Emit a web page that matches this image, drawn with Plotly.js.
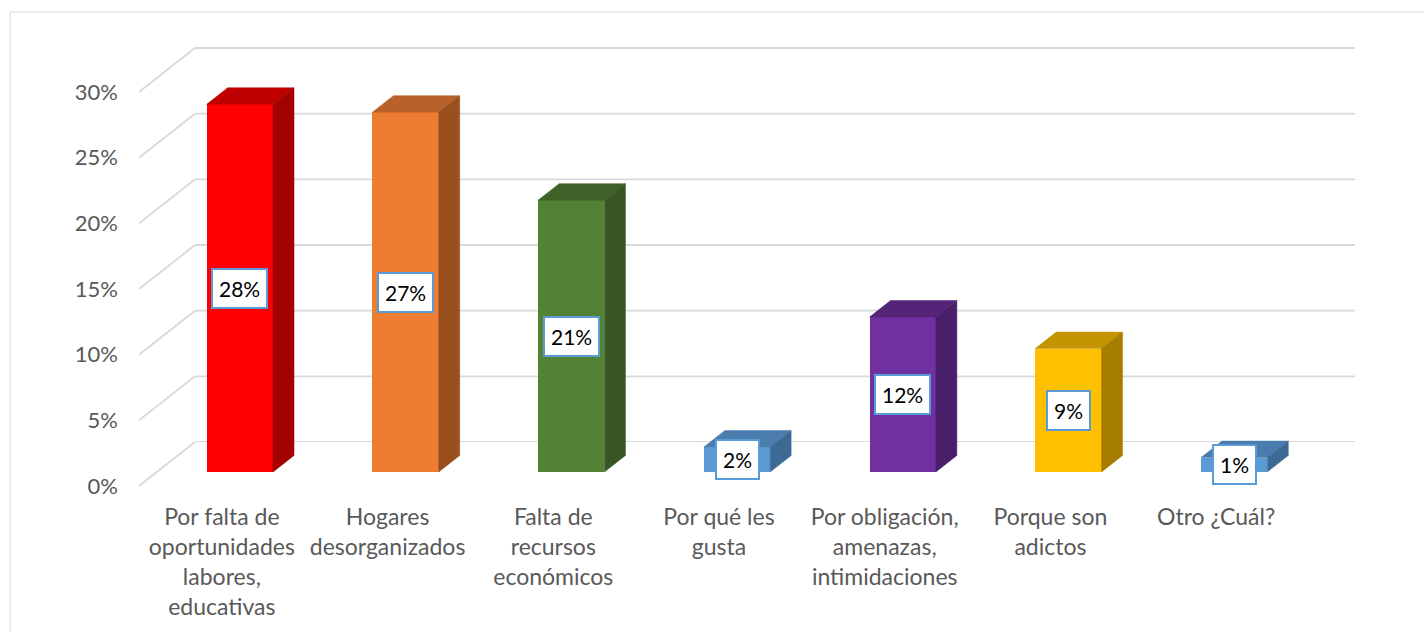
<!DOCTYPE html>
<html><head><meta charset="utf-8">
<script src="https://cdn.plot.ly/plotly-3.0.1.min.js"></script>
<style>html,body{margin:0;padding:0;background:#fff}#chart{width:1424px;height:632px}</style>
</head><body><div id="chart"></div>
<script>
// ---- data ----
const categories = [
  "Por falta de<br>oportunidades<br>labores,<br>educativas",
  "Hogares<br>desorganizados",
  "Falta de<br>recursos<br>económicos",
  "Por qué les<br>gusta",
  "Por obligación,<br>amenazas,<br>intimidaciones",
  "Porque son<br>adictos",
  "Otro ¿Cuál?"
];
const values = [28.0, 27.4, 20.7, 1.9, 11.8, 9.4, 1.1];
const valueLabels = ["28%", "27%", "21%", "2%", "12%", "9%", "1%"];
const frontColors = ["#FF0000", "#ED7D31", "#548235", "#5B9BD5", "#7030A0", "#FFC000", "#5B9BD5"];
const topColors   = ["#C00000", "#B8612A", "#3F6128", "#4A7DAE", "#552478", "#C49300", "#4A7DAE"];
const sideColors  = ["#A30000", "#9A4F1F", "#375623", "#3D6A95", "#4A1F69", "#A67D00", "#3D6A95"];
const yTickValues = [0, 5, 10, 15, 20, 25, 30];
const yTickLabels = ["0%", "5%", "10%", "15%", "20%", "25%", "30%"];

// ---- geometry (pixels) ----
const W = 1424, H = 632;
const L = 139, R = 1355, T = 44, B = 486;
const pw = R - L, ph = B - T;
const frontW = 1160;
const pxPerCat = frontW / categories.length;
const pxPerPct = 394 / 30;
const wallDX = 56, wallDY = 44;
const barDX = 18, barDY = 14;
const depthDX = 21, depthDY = 16.5;
const barW = 0.4;
const FONT = "Lato, 'Open Sans', sans-serif";
const GRID = "#D9D9D9";
const idx = categories.map((c, i) => i);

const traces = [];
// front faces
traces.push({
  type: "bar", x: idx, y: values, width: barW,
  marker: {color: frontColors, line: {width: 0}},
  xaxis: "x3", yaxis: "y3", hoverinfo: "skip"
});
const ddx = depthDX / pxPerCat, ddy = depthDY / pxPerPct;
values.forEach((v, i) => {
  const a = i - barW / 2, b = i + barW / 2;
  traces.push({
    type: "scatter", mode: "lines", fill: "toself",
    x: [a, a + ddx, b + ddx, b, a], y: [v, v + ddy, v + ddy, v, v],
    fillcolor: topColors[i], line: {color: topColors[i], width: 0.5},
    xaxis: "x3", yaxis: "y3", hoverinfo: "skip"
  });
  traces.push({
    type: "scatter", mode: "lines", fill: "toself",
    x: [b, b + ddx, b + ddx, b, b], y: [0, ddy, v + ddy, v, 0],
    fillcolor: sideColors[i], line: {color: sideColors[i], width: 0.5},
    xaxis: "x3", yaxis: "y3", hoverinfo: "skip"
  });
});

const xr = [-0.5, categories.length - 0.5];
const shapes = [];
// side-wall diagonals (front plane -> back wall)
yTickValues.forEach(v => shapes.push({
  type: "line", xref: "x2", yref: "y2", layer: "below",
  x0: xr[0], y0: v, x1: xr[0] + wallDX / pxPerCat, y1: v + wallDY / pxPerPct,
  line: {color: GRID, width: 1.8}
}));
// back-wall gridlines
yTickValues.forEach(v => shapes.push({
  type: "line", xref: "x", yref: "y", layer: "below",
  x0: xr[0], y0: v, x1: xr[1], y1: v,
  line: {color: GRID, width: 1.8}
}));
// chart-area border
shapes.push({
  type: "rect", xref: "paper", yref: "paper",
  x0: (10 - L) / pw, x1: (1440 - L) / pw, y0: (B - 650) / ph, y1: (B - 12) / ph,
  line: {color: GRID, width: 1}, fillcolor: "rgba(0,0,0,0)"
});

const annotations = values.map((v, i) => ({
  xref: "x3", yref: "y3", x: i, y: v / 2, text: valueLabels[i], showarrow: false,
  bgcolor: "#FFFFFF", bordercolor: "#5B9BD5", borderwidth: 2, borderpad: 6,
  font: {family: FONT, size: 21, color: "#000000"}
}));

const hidden = {showgrid: false, zeroline: false, showline: false, showticklabels: false, ticks: ""};
const layout = {
  width: W, height: H,
  margin: {l: L, r: W - R, t: T, b: H - B, pad: 0},
  paper_bgcolor: "#FFFFFF", plot_bgcolor: "rgba(0,0,0,0)",
  showlegend: false,
  font: {family: FONT, size: 22, color: "#595959"},
  // back wall
  xaxis: Object.assign({}, hidden, {domain: [wallDX / pw, (wallDX + frontW) / pw], range: xr, anchor: "y"}),
  yaxis: Object.assign({}, hidden, {domain: [wallDY / ph, 1], range: [0, (ph - wallDY) / pxPerPct], anchor: "x"}),
  // front plane (labels)
  xaxis2: Object.assign({}, hidden, {domain: [0, frontW / pw], range: xr, anchor: "y2",
    showticklabels: true, tickmode: "array", tickvals: idx, ticktext: categories, tickangle: 0,
    ticklabelstandoff: 15, tickfont: {family: FONT, size: 23, color: "#595959"}}),
  yaxis2: Object.assign({}, hidden, {domain: [0, 1], range: [0, ph / pxPerPct], anchor: "x2",
    showticklabels: true, tickmode: "array", tickvals: yTickValues, ticktext: yTickLabels,
    ticklabelstandoff: 20, tickfont: {family: FONT, size: 22, color: "#595959"}}),
  // bars
  xaxis3: Object.assign({}, hidden, {domain: [barDX / pw, (barDX + frontW) / pw], range: xr, anchor: "y3"}),
  yaxis3: Object.assign({}, hidden, {domain: [barDY / ph, 1], range: [0, (ph - barDY) / pxPerPct], anchor: "x3"}),
  shapes: shapes,
  annotations: annotations,
  bargap: 0
};
Plotly.newPlot("chart", traces, layout, {staticPlot: true, displayModeBar: false});
</script></body></html>
